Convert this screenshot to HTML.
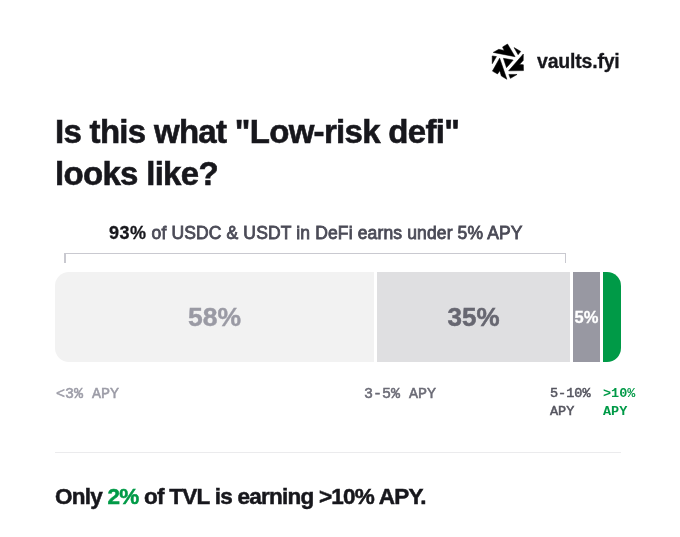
<!DOCTYPE html>
<html>
<head>
<meta charset="utf-8">
<title>vaults.fyi</title>
<style>
  html, body { margin: 0; padding: 0; background: #ffffff; }
  body { width: 680px; height: 537px; position: relative; overflow: hidden;
         font-family: "Liberation Sans", sans-serif; color: #17171c; }
  .abs { position: absolute; white-space: nowrap; line-height: 1; will-change: transform; }
  #logo { left: 488px; top: 40px; width: 40px; height: 44px; }
  #brand { left: 537.3px; top: 51.6px; font-size: 19.5px; font-weight: bold; color: #17171c; letter-spacing: -0.2px; -webkit-text-stroke: 0.3px #17171c; }
  #t1 { left: 54.8px; top: 115px; font-size: 33px; font-weight: bold; letter-spacing: -0.7px; -webkit-text-stroke: 0.6px #17171c; }
  #t2 { left: 54.8px; top: 156.5px; font-size: 33px; font-weight: bold; letter-spacing: -0.7px; -webkit-text-stroke: 0.6px #17171c; }
  #sub { left: 108.5px; top: 224.2px; font-size: 17.5px; color: #4b4b57; letter-spacing: 0.14px; -webkit-text-stroke: 0.8px #4b4b57; }
  #sub b { color: #17171c; -webkit-text-stroke: 0.3px #17171c; letter-spacing: 0.5px; font-size: 18px; }
  #brk { left: 64px; top: 253px; width: 502px; height: 10px; box-sizing: border-box;
         border: 1px solid #c9c9d0; border-bottom: none; border-left-width: 2px; }
  .seg { top: 272px; height: 90px; text-align: center; line-height: 90px; font-weight: bold; }
  #s1 { left: 55px; width: 319px; background: #f2f2f2; border-radius: 14px 0 0 14px; color: #9a9aa4; font-size: 26.5px; -webkit-text-stroke: 0.4px #9a9aa4; }
  #s2 { left: 377px; width: 193px; background: #dfdfe1; color: #676771; font-size: 26px; -webkit-text-stroke: 0.5px #676771; }
  #s3 { left: 573px; width: 27px; background: #9898a2; color: #ffffff; font-size: 16.5px; line-height: 90.6px; -webkit-text-stroke: 0.3px #ffffff; }
  #s4 { left: 603px; width: 18px; background: #009a47; border-radius: 0 14px 14px 0; }
  .lab { font-family: "Liberation Mono", monospace; }
  #l1 { left: 55.5px; top: 386.7px; font-size: 15px; color: #9c9ca7; -webkit-text-stroke: 0.5px #9c9ca7; }
  #l2 { left: 364px; top: 386.7px; font-size: 15px; color: #6b6b76; -webkit-text-stroke: 0.5px #6b6b76; }
  #l3 { left: 549.7px; top: 384.8px; font-size: 13.5px; line-height: 18px; color: #55555f; white-space: pre; -webkit-text-stroke: 0.5px #55555f; }
  #l4 { left: 603.3px; top: 384.8px; font-size: 13.5px; line-height: 18px; color: #009a47; font-weight: bold; white-space: pre; }
  #div { left: 55px; top: 452px; width: 566px; height: 1px; background: #ebebed; }
  #foot { left: 55.3px; top: 486.3px; font-size: 22.5px; font-weight: bold; letter-spacing: -0.75px; -webkit-text-stroke: 0.5px #17171c; }
  #foot span { color: #009a47; -webkit-text-stroke: 0.5px #009a47; }
</style>
</head>
<body>
<svg id="logo" class="abs" viewBox="-19.8 -21.9 40 44">
  <g fill="#000000" stroke="#000000" stroke-width="0.5" stroke-linejoin="miter">
    <g>
      <polygon points="-14.6,-9.5 -9.0,-12.6 -3.6,-11.4 -5.25,-14.9 -0.3,-17.9 7.3,-5.2"/>
      <polygon points="6.25,-14.3 12.95,-10.5 10.3,-7.2"/>
    </g>
    <g transform="rotate(120)">
      <polygon points="-14.6,-9.5 -9.0,-12.6 -3.6,-11.4 -5.25,-14.9 -0.3,-17.9 7.3,-5.2"/>
      <polygon points="6.25,-14.3 12.95,-10.5 10.3,-7.2"/>
    </g>
    <g transform="rotate(240)">
      <polygon points="-14.6,-9.5 -9.0,-12.6 -3.6,-11.4 -5.25,-14.9 -0.3,-17.9 7.3,-5.2"/>
      <polygon points="6.25,-14.3 12.95,-10.5 10.3,-7.2"/>
    </g>
    <polygon points="-4.4,-3.6 5.4,-1.85 -1.3,5.75"/>
  </g>
</svg>
<div id="brand" class="abs">vaults.fyi</div>
<div id="t1" class="abs">Is this what "Low-risk defi"</div>
<div id="t2" class="abs">looks like?</div>
<div id="sub" class="abs"><b>93%</b> of USDC &amp; USDT in DeFi earns under 5% APY</div>
<div id="brk" class="abs"></div>
<div id="s1" class="abs seg">58%</div>
<div id="s2" class="abs seg">35%</div>
<div id="s3" class="abs seg">5%</div>
<div id="s4" class="abs seg"></div>
<div id="l1" class="abs lab">&lt;3% APY</div>
<div id="l2" class="abs lab">3-5% APY</div>
<div id="l3" class="abs lab">5-10%
APY</div>
<div id="l4" class="abs lab">&gt;10%
APY</div>
<div id="div" class="abs"></div>
<div id="foot" class="abs">Only <span>2%</span> of TVL is earning &gt;10% APY.</div>
</body>
</html>
